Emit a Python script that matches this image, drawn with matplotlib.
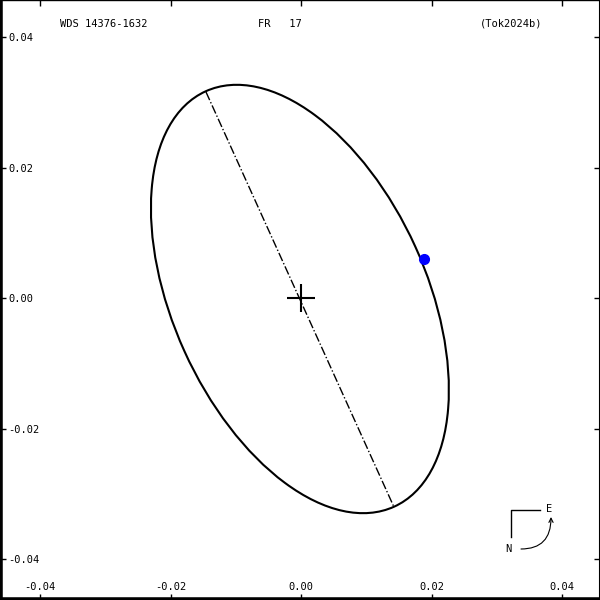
import matplotlib
matplotlib.use('Agg')
import matplotlib.pyplot as plt
from matplotlib.patches import Ellipse

plt.rcParams['font.family'] = 'DejaVu Sans Mono'
plt.rcParams['font.size'] = 7.5

# apparent orbit (arcsec)
orbit_center = (-0.00017, -0.00015)
orbit_width = 0.0699
orbit_height = 0.03884
orbit_angle = 114.4

# line of apsides
apsides_x = [-0.01456, 0.01422]
apsides_y = [0.03157, -0.03198]

# companion position
comp_x = [0.01882]
comp_y = [0.00598]

ticks = [-0.04, -0.02, 0.00, 0.02, 0.04]
tick_labels = ['-0.04', '-0.02', '0.00', '0.02', '0.04']

fig = plt.figure(figsize=(6, 6), dpi=100)
ax = fig.add_axes([0, 0, 1, 1])

ax.add_patch(Ellipse(orbit_center, orbit_width, orbit_height, angle=orbit_angle,
                     fill=False, ec='black', lw=1.5))
ax.plot(apsides_x, apsides_y, c='black', ls='-.', lw=1.0)
ax.plot([0], [0], marker='+', ms=20, mew=1.5, c='black')
ax.plot(comp_x, comp_y, 'o', c='blue', ms=7)

ax.set_xlim(-0.04613, 0.04582)
ax.set_ylim(-0.04628, 0.04567)

ax.set_xticks(ticks)
ax.set_xticklabels(tick_labels)
ax.set_yticks(ticks)
ax.set_yticklabels(tick_labels)
ax.tick_params(direction='in', length=4.5, width=1, top=True, right=True, pad=-6)
for lab in ax.get_xticklabels():
    lab.set_va('bottom')
for lab in ax.get_yticklabels():
    lab.set_ha('left')

ax.spines['left'].set_linewidth(4)
ax.spines['bottom'].set_linewidth(4)
ax.spines['right'].set_linewidth(1.5)
ax.spines['top'].set_linewidth(1)

ax.text(0.1, 0.96, 'WDS 14376-1632', transform=ax.transAxes, va='center')
ax.text(0.43, 0.96, 'FR   17', transform=ax.transAxes, va='center')
ax.text(0.8, 0.96, '(Tok2024b)', transform=ax.transAxes, va='center')

# orientation mark
ax.plot([511/600, 511/600, 540/600], [1-537/600, 1-510/600, 1-510/600],
        c='black', lw=1, transform=ax.transAxes)
ax.text(549/600, 1-509/600, 'E', transform=ax.transAxes, ha='center', va='center')
ax.text(508/600, 1-549/600, 'N', transform=ax.transAxes, ha='center', va='center')
ax.annotate('', xy=(551/600, 1-517/600), xytext=(521/600, 1-549/600),
            xycoords='axes fraction', textcoords='axes fraction',
            arrowprops=dict(arrowstyle='->', lw=0.8, color='black',
                            connectionstyle='angle3,angleA=0,angleB=90',
                            shrinkA=0, shrinkB=0))

fig.savefig('out.png', dpi=100)
